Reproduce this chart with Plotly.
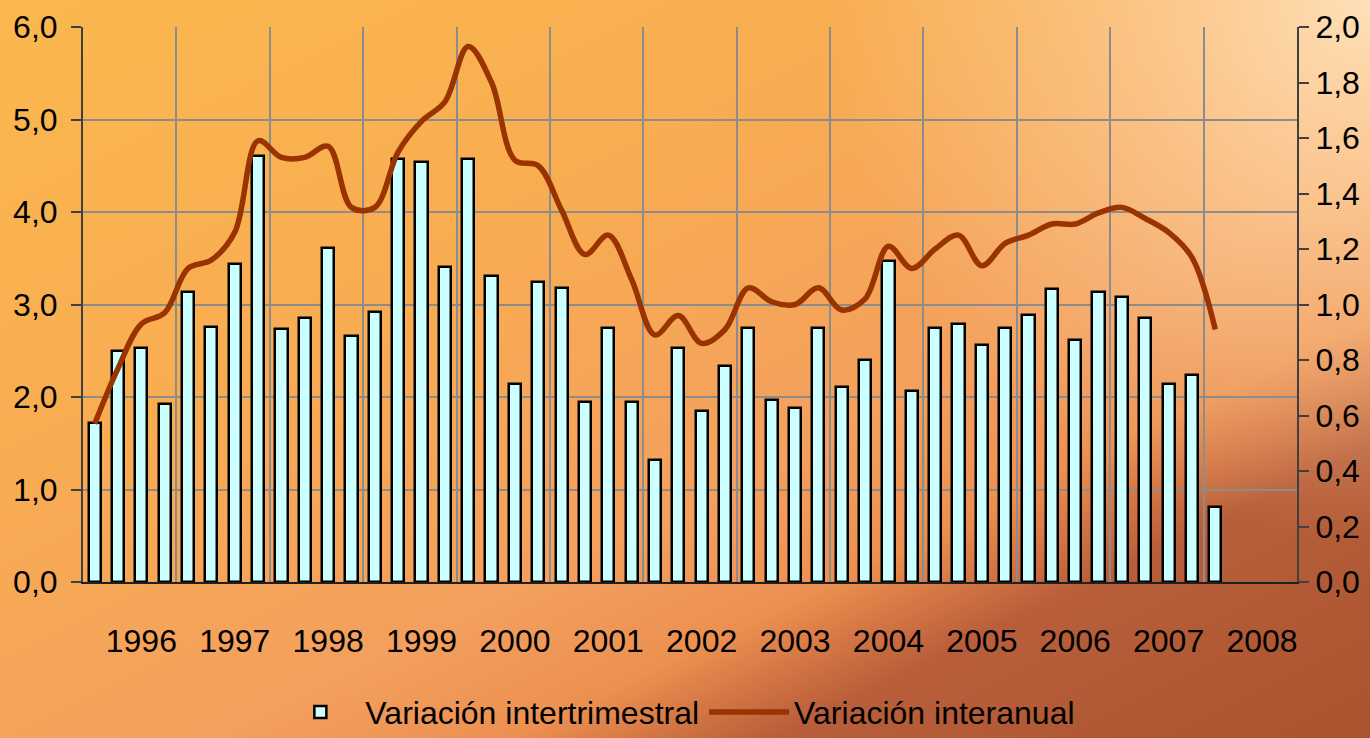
import base64
import plotly.graph_objects as go

# años del eje (cada año = 4 trimestres)
years = ['1996', '1997', '1998', '1999', '2000', '2001', '2002',
         '2003', '2004', '2005', '2006', '2007', '2008']

# variación intertrimestral (eje izquierdo), 1996T1 - 2008T1
intertrimestral = [1.72, 2.50, 2.53, 1.92, 3.14, 2.76, 3.44, 4.61,
                   2.73, 2.85, 3.61, 2.66, 2.92, 4.57, 4.54, 3.41,
                   4.57, 3.31, 2.14, 3.24, 3.18, 1.95, 2.75, 1.95,
                   1.32, 2.53, 1.85, 2.34, 2.75, 1.97, 1.88, 2.75,
                   2.11, 2.40, 3.47, 2.07, 2.75, 2.79, 2.56, 2.75,
                   2.89, 3.17, 2.62, 3.14, 3.08, 2.85, 2.14, 2.24,
                   0.81]

# variación interanual (eje derecho)
interanual = [0.57, 0.77, 0.93, 0.97, 1.13, 1.16, 1.26, 1.59, 1.53, 1.53,
              1.57, 1.35, 1.35, 1.55, 1.66, 1.73, 1.93, 1.80, 1.52, 1.50,
              1.34, 1.18, 1.25, 1.09, 0.89, 0.96, 0.86, 0.91, 1.06, 1.01,
              1.00, 1.06, 0.98, 1.02, 1.21, 1.13, 1.20, 1.25, 1.14, 1.22,
              1.25, 1.29, 1.29, 1.33, 1.35, 1.31, 1.26, 1.17, 0.91]

quarters = list(range(len(intertrimestral)))
year_pos = [2 + 4 * i for i in range(len(years))]

FONT = 'Liberation Sans, Arial, sans-serif'

# fondo degradado naranja (svg inline)
bg_svg = '''<svg xmlns="http://www.w3.org/2000/svg" width="1370" height="738" viewBox="0 0 1370 738" preserveAspectRatio="none">
<defs>
<linearGradient id="g" gradientUnits="userSpaceOnUse" x1="0" y1="0" x2="557" y2="1140">
<stop offset="0" stop-color="#FBB84E"/>
<stop offset="0.35" stop-color="#F8AC52"/>
<stop offset="0.6" stop-color="#F39F5E"/>
<stop offset="0.70" stop-color="#EC9050"/>
<stop offset="0.745" stop-color="#D47644"/>
<stop offset="0.79" stop-color="#B85E3A"/>
<stop offset="1" stop-color="#A9532F"/>
</linearGradient>
<radialGradient id="r" gradientUnits="userSpaceOnUse" cx="1370" cy="0" r="540">
<stop offset="0" stop-color="#FFE3BE" stop-opacity="0.95"/>
<stop offset="0.5" stop-color="#FFD9A8" stop-opacity="0.5"/>
<stop offset="1" stop-color="#FFD9A8" stop-opacity="0"/>
</radialGradient>
</defs>
<rect width="1370" height="738" fill="url(#g)"/>
<rect width="1370" height="738" fill="url(#r)"/>
</svg>'''
bg_uri = 'data:image/svg+xml;base64,' + base64.b64encode(bg_svg.encode()).decode()

fig = go.Figure()

fig.add_trace(go.Bar(
    x=quarters, y=intertrimestral, name='Variación intertrimestral',
    width=0.52,
    marker=dict(color='#CCFFFF', line=dict(color='black', width=2.5)),
))

fig.add_trace(go.Scatter(
    x=quarters, y=interanual, name='Variación interanual', yaxis='y2',
    mode='lines', line=dict(color='#993300', width=5.5, shape='spline', smoothing=1),
))

fig.update_layout(
    width=1370, height=738,
    margin=dict(l=83, r=73, t=27, b=156, autoexpand=False),
    paper_bgcolor='#F4A45A',
    plot_bgcolor='#FFFFCC',
    separators=',.',
    font=dict(family=FONT, size=32, color='black'),
    showlegend=True,
    bargap=0,
    xaxis=dict(
        range=[-0.5, 51.5], tickmode='array', tickvals=year_pos, ticktext=years,
        showgrid=False, zeroline=False, ticks='',
        showline=True, linecolor='#202020', linewidth=2,
        ticklabelstandoff=30,
        minor=dict(tickmode='linear', tick0=3.5, dtick=4, showgrid=True,
                   gridcolor='#8C8C8C', gridwidth=1.5, ticks=''),
    ),
    yaxis=dict(
        range=[0, 6], dtick=1, tickformat='.1f',
        showgrid=True, gridcolor='#8C8C8C', gridwidth=1.5, zeroline=False,
        showline=True, linecolor='#404040', linewidth=2,
        ticks='outside', ticklen=10, tickcolor='#404040', tickwidth=1.5,
        ticklabelstandoff=7,
    ),
    yaxis2=dict(
        range=[0, 2], dtick=0.2, tickformat='.1f', overlaying='y', side='right',
        showgrid=False, zeroline=False,
        showline=True, linecolor='#404040', linewidth=2,
        ticks='outside', ticklen=10, tickcolor='#404040', tickwidth=1.5,
        ticklabelstandoff=0,
    ),
    legend=dict(
        orientation='h', x=0.49, xanchor='center', y=-0.185, yanchor='top',
        font=dict(size=32), bgcolor='rgba(0,0,0,0)', itemwidth=80,
        traceorder='normal',
    ),
    images=[dict(
        source=bg_uri, xref='paper', yref='paper',
        x=-83 / 1214, y=1 + 27 / 555, sizex=1370 / 1214, sizey=738 / 555,
        xanchor='left', yanchor='top', sizing='stretch', layer='below',
    )],
)

fig.write_html('out.html', config={'displayModeBar': False},
               post_script="document.body.style.margin='0';")
